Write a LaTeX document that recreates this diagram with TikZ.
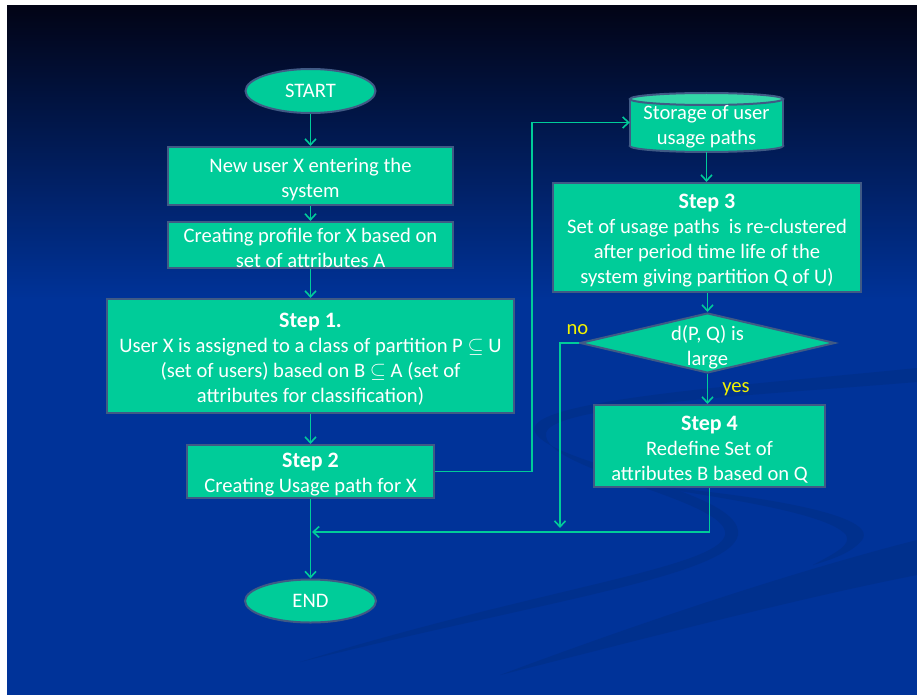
\documentclass[tikz,border=0pt]{standalone}
\usepackage{fontspec}
\setmainfont{Carlito}
\usetikzlibrary{shapes.geometric,arrows.meta}
\definecolor{boxg}{HTML}{00CC99}
\definecolor{edgeb}{HTML}{405A85}
\definecolor{bgblue}{HTML}{003399}
\definecolor{bgtop}{HTML}{020416}
\definecolor{swoosh}{HTML}{00308D}
\definecolor{ylab}{HTML}{F2F200}
\definecolor{cyltop}{HTML}{33D6A8}
\newcommand{\dnstrut}{\rule{0pt}{21pt}}
\newcommand{\ttl}[1]{{\fontsize{22}{25}\selectfont\bfseries #1}}
\begin{document}
\begin{tikzpicture}[x=1pt,y=-1pt,
  font=\fontsize{20.6}{25}\selectfont,
  box/.style={rectangle, draw=edgeb, line width=2pt, fill=boxg, text=white, align=center, inner sep=0pt},
  term/.style={ellipse, draw=edgeb, line width=2pt, fill=boxg, text=white, inner sep=0pt},
  arr/.style={draw=boxg, line width=1.6pt, -{Straight Barb[length=6pt,width=11pt]}},
  lab/.style={text=ylab, inner sep=0pt}]
\useasboundingbox (0,0) rectangle (917,695);
% background
\fill[white] (0,0) rectangle (917,695);
\shade[top color=bgtop, bottom color=bgblue] (7,6) rectangle (917,300);
\fill[bgblue] (7,299.5) rectangle (917,695);
% decorative swooshes
\fill[swoosh] (917,368) .. controls (750,385) and (520,400) .. (535,432)
  .. controls (550,465) and (745,490) .. (738,535)
  .. controls (730,575) and (550,600) .. (300,662)
  .. controls (540,588) and (718,568) .. (725,535)
  .. controls (732,500) and (540,470) .. (546,433)
  .. controls (552,405) and (760,395) .. (917,382) -- cycle;
\fill[swoosh] (640,485) .. controls (760,495) and (880,515) .. (862,540)
  .. controls (852,553) and (830,560) .. (813,565)
  .. controls (835,553) and (852,545) .. (846,535)
  .. controls (830,515) and (740,500) .. (640,485) -- cycle;
\fill[swoosh] (917,540) .. controls (780,575) and (620,630) .. (500,675)
  .. controls (640,640) and (790,600) .. (917,575) -- cycle;
% storage cylinder body
\filldraw[fill=boxg, draw=edgeb, line width=2pt] (706.5,146) ellipse [x radius=76.5pt, y radius=6pt];
\fill[boxg] (630,99) rectangle (783,146);
\draw[edgeb, line width=2pt] (630,99) -- (630,146) (783,99) -- (783,146);
\filldraw[fill=cyltop, draw=edgeb, line width=2pt] (706.5,99) ellipse [x radius=76.5pt, y radius=6pt];
% nodes
\node[term, minimum width=130pt, minimum height=44pt] (start) at (310.5,91) {START};
\node[box, minimum width=285pt, minimum height=58pt] (newu) at (310.5,176) {\dnstrut New user X entering the\\system};
\node[box, minimum width=285pt, minimum height=46pt] (prof) at (310.5,245) {\dnstrut Creating profile for X based on\\set of attributes A};
\node[box, minimum width=407pt, minimum height=114pt] (s1) at (310.5,356) {\dnstrut\ttl{Step 1.}\\User X is assigned to a class of partition P $\subseteq$ U\\(set of users) based on B $\subseteq$ A (set of\\attributes for classification)};
\node[box, minimum width=247pt, minimum height=53pt] (s2) at (310.5,471.5) {\dnstrut\ttl{Step 2}\\Creating Usage path for X};
\node[term, minimum width=131pt, minimum height=43pt] (endn) at (310.5,601) {END};
\node[text=white, align=center, inner sep=0pt, minimum width=153pt, minimum height=59pt] (storage) at (706.5,122.5) {\rule{0pt}{22pt}Storage of user\\usage paths};
\node[box, minimum width=308pt, minimum height=109pt] (s3) at (707,237.5) {\dnstrut\ttl{Step 3}\\Set of usage paths~ is re-clustered\\after period time life of the\\system giving partition Q of U)};
\node[diamond, draw=edgeb, line width=2pt, fill=boxg, inner sep=0pt, minimum width=255pt, minimum height=60pt,
  label={[text=white, align=center, inner sep=0pt, yshift=-4pt]center:{d(P, Q) is\\large}}] (dec) at (707.5,343) {};
\node[box, minimum width=231pt, minimum height=82pt] (s4) at (709.5,446) {\dnstrut\ttl{Step 4}\\Redefine Set of\\attributes B based on Q};
% helper coordinates
\coordinate (sbend) at (532,0);
\coordinate (nobot) at (560,528);
\coordinate (joinpt) at (312,532);
% connectors
\draw[arr] (start) -- (newu);
\draw[arr] (newu) -- (prof);
\draw[arr] (prof) -- (s1);
\draw[arr] (s1) -- (s2);
\draw[arr] (s2) -- (endn);
\draw[arr] (s2.east) -- (s2.east -| sbend) |- (storage.west);
\draw[arr] (storage.south) -- (s3.north -| storage.south);
\draw[arr] (s3.south -| dec.north) -- (dec.north);
\draw[arr] (dec.south) -- node[lab, right=14pt] {yes} (s4.north -| dec.south);
\draw[arr] (dec.west) node[lab, above=8pt, xshift=-1.5pt] {no} -- (dec.west -| nobot) -- (nobot);
\draw[arr] (s4.south) |- (joinpt);
\end{tikzpicture}
\end{document}
